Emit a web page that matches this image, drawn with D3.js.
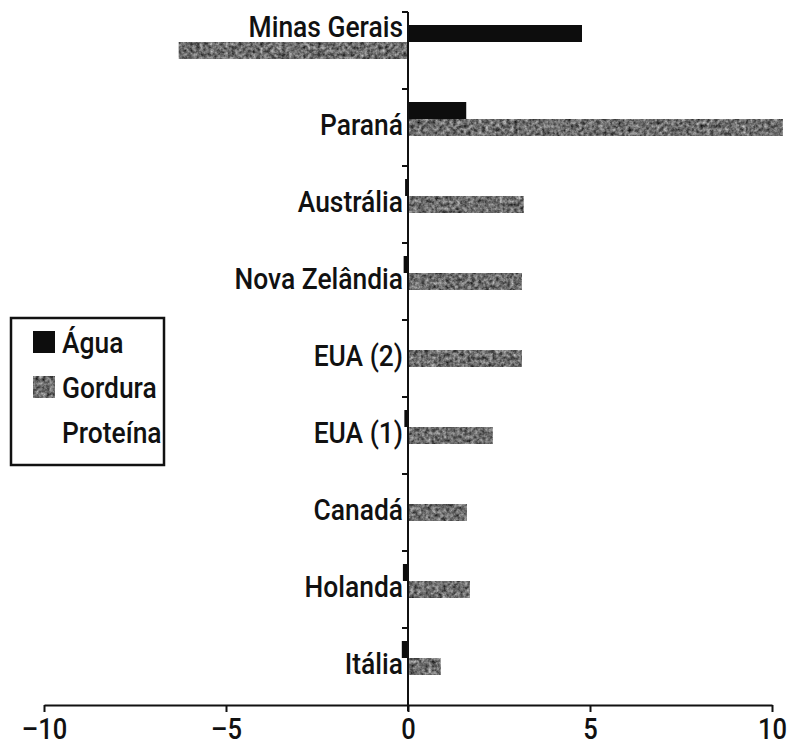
<!DOCTYPE html>
<html>
<head>
<meta charset="utf-8">
<script src="https://cdn.jsdelivr.net/npm/d3@7"></script>
<style>
  html, body { margin: 0; padding: 0; background: #fff; }
  svg { display: block; }
  text { font-family: Roboto, "Liberation Sans", sans-serif; font-weight: 500; fill: #111; }
</style>
</head>
<body>
<svg id="chart" width="794" height="747"></svg>
<script>
// ---- data ----
const categories = ["Minas Gerais", "Paraná", "Austrália", "Nova Zelândia", "EUA (2)", "EUA (1)", "Canadá", "Holanda", "Itália"];
const seriesNames = ["Água", "Gordura", "Proteína"];
const agua     = [4.78, 1.6, -0.08, -0.12, 0, -0.1, 0, -0.14, -0.17];
const gordura  = [-6.3, 10.3, 3.18, 3.13, 3.13, 2.33, 1.62, 1.7, 0.9];
const proteina = [0, 0, 0, 0, 0, 0, 0, 0, 0]; // drawn in white: not visible in the source
const xTicks = [-10, -5, 0, 5, 10];

const svg = d3.select("#chart");
const SX = 0.88; // horizontal condensing of the text

// texture filter for the gray series
const defs = svg.append("defs");
const f = defs.append("filter").attr("id", "grain")
  .attr("x", 0).attr("y", 0).attr("width", "100%").attr("height", "100%")
  .attr("color-interpolation-filters", "sRGB");
f.append("feTurbulence").attr("type", "fractalNoise").attr("baseFrequency", "0.28")
  .attr("numOctaves", 3).attr("seed", 11).attr("result", "noise");
f.append("feColorMatrix").attr("in", "noise").attr("type", "saturate").attr("values", 0).attr("result", "g");
const ct = f.append("feComponentTransfer").attr("in", "g").attr("result", "g2");
["feFuncR", "feFuncG", "feFuncB"].forEach(fn =>
  ct.append(fn).attr("type", "linear").attr("slope", 1.1).attr("intercept", -0.12));
ct.append("feFuncA").attr("type", "linear").attr("slope", 0).attr("intercept", 1);
f.append("feComposite").attr("in", "g2").attr("in2", "SourceGraphic").attr("operator", "in");

const colors = { "Água": "#0d0d0d", "Gordura": "#6e6e6e", "Proteína": "#ffffff" };
const values = { "Água": agua, "Gordura": gordura, "Proteína": proteina };

// scales
const x = d3.scaleLinear().domain([-10, 10]).range([44, 772]);
const y = d3.scaleBand().domain(categories).range([12, 705]).paddingInner(0).paddingOuter(0);
const ySub = d3.scaleBand().domain(seriesNames).range([0, y.bandwidth()]).paddingInner(0).paddingOuter(0.765);

// bars
const plot = svg.append("g");
seriesNames.forEach(s => {
  plot.append("g").selectAll("rect")
    .data(categories.map((c, i) => ({ c, v: values[s][i] })))
    .join("rect")
    .attr("x", d => x(Math.min(0, d.v)))
    .attr("y", d => y(d.c) + ySub(s))
    .attr("width", d => Math.abs(x(d.v) - x(0)))
    .attr("height", ySub.bandwidth())
    .attr("fill", colors[s])
    .attr("filter", s === "Gordura" ? "url(#grain)" : null);
});

// y axis (category axis at x = 0)
const x0 = x(0);
const yAxis = svg.append("g");
yAxis.append("line").attr("x1", x0).attr("x2", x0)
  .attr("y1", y.range()[0]).attr("y2", y.range()[1] + 6)
  .attr("stroke", "#111").attr("stroke-width", 2);
const bounds = categories.map(c => y(c));
yAxis.selectAll("line.tk").data(bounds).join("line").attr("class", "tk")
  .attr("x1", x0 - 6).attr("x2", x0).attr("y1", d => d).attr("y2", d => d)
  .attr("stroke", "#111").attr("stroke-width", 2);

// category labels
yAxis.selectAll("text").data(categories).join("text")
  .attr("transform", (c, i) => {
    const neg = Math.min(agua[i], gordura[i]);
    let ty;
    if (neg < -1) {
      const s = gordura[i] <= agua[i] ? "Gordura" : "Água";
      ty = y(c) + ySub(s) - 5; // lifted above a long negative bar
    } else {
      ty = y(c) + y.bandwidth() / 2 + 7;
    }
    return `translate(${x0 - 5},${ty}) scale(${SX},1)`;
  })
  .attr("text-anchor", "end")
  .attr("font-size", 30)
  .text(d => d);

// x axis
const xAxis = d3.axisBottom(x).tickValues(xTicks).tickSize(7).tickSizeOuter(0)
  .tickFormat(d => d < 0 ? "–" + Math.abs(d) : String(d));
const gx = svg.append("g").attr("transform", `translate(0,${y.range()[1]})`).call(xAxis);
gx.select(".domain").attr("stroke", "#111").attr("stroke-width", 2.2);
gx.selectAll(".tick line").attr("stroke", "#111").attr("stroke-width", 2);
gx.selectAll(".tick text")
  .attr("font-family", 'Roboto, "Liberation Sans", sans-serif')
  .attr("font-weight", 500)
  .attr("font-size", 29).attr("fill", "#111")
  .attr("y", null).attr("dy", null)
  .attr("transform", `translate(0,34) scale(${SX},1)`);

// legend
const lg = svg.append("g");
lg.append("rect").attr("x", 11).attr("y", 318).attr("width", 153).attr("height", 147)
  .attr("fill", "#fff").attr("stroke", "#111").attr("stroke-width", 2.5);
const rowY = d3.scalePoint().domain(seriesNames).range([342, 432]);
seriesNames.forEach(s => {
  lg.append("rect").attr("x", 33).attr("y", rowY(s) - 11).attr("width", 22).attr("height", 22)
    .attr("fill", colors[s]).attr("filter", s === "Gordura" ? "url(#grain)" : null);
  lg.append("text").attr("transform", `translate(62,${rowY(s) + 11}) scale(${SX},1)`)
    .attr("font-size", 30).text(s);
});
</script>
</body>
</html>
